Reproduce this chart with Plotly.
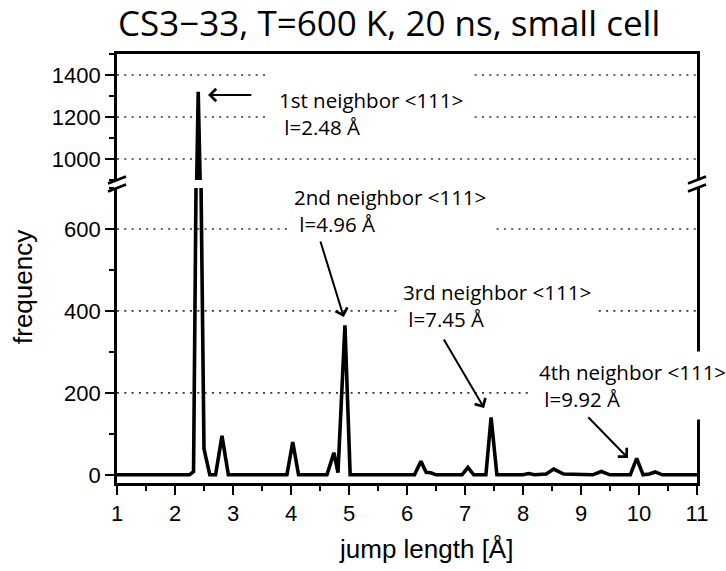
import plotly.graph_objects as go

# Jump-length histogram (CS3-33, 600 K, 20 ns, small cell)
jump_length = [1.00, 2.25, 2.32, 2.40, 2.50, 2.60, 2.70, 2.81, 2.92, 3.93, 4.03, 4.13,
               4.62, 4.74, 4.81, 4.93, 5.02, 5.60, 5.70, 5.80, 6.13, 6.24, 6.33, 6.41,
               6.50, 6.95, 7.05, 7.15, 7.36, 7.45, 7.55, 8.00, 8.10, 8.20, 8.40, 8.53,
               8.70, 9.20, 9.35, 9.50, 9.85, 9.96, 10.07, 10.18, 10.28, 10.40, 11.00]
frequency = [0, 0, 8, 1320, 63, 0, 0, 95, 0, 0, 80, 0,
             0, 54, 5, 365, 0, 0, 2, 0, 0, 33, 6, 5,
             0, 0, 18, 0, 0, 140, 0, 0, 3, 0, 2, 14,
             2, 0, 8, 0, 0, 40, 0, 2, 7, 0, 0]

lower_ticks = [0, 200, 400, 600]
upper_ticks = [1000, 1200, 1400]
lower_range = [-20, 700]
upper_range = [900, 1500]
x_ticks = list(range(1, 12))

neighbor_names = ["1st", "2nd", "3rd", "4th"]
neighbor_dist = [2.48, 4.96, 7.45, 9.92]

title_text = "CS3\u221233, T=600 K, 20 ns, small cell"
x_title = "jump length [Å]"
y_title = "frequency"

# ---- layout geometry (figure pixels) ----
W, H = 726, 571
L, R, T, B = 117, 697, 54, 483


def px(p):
    return (p - L) / (R - L)


def py(p):
    return (B - p) / (B - T)


gap_top, gap_bottom = 180, 188
lower_dom = [0, py(gap_bottom)]
upper_dom = [py(gap_top), 1]

tick_font = dict(family="Liberation Sans, Arial", size=22, color="black")
title_font = dict(family="Liberation Sans, Arial", size=26, color="black")
label_font = dict(family="Open Sans", size=20.5, color="black")

line_w = 2.8

fig = go.Figure()
for xa, ya in (("x", "y"), ("x2", "y2")):
    fig.add_trace(go.Scatter(
        x=jump_length, y=frequency, mode="lines", xaxis=xa, yaxis=ya,
        line=dict(color="black", width=3.6), showlegend=False, hoverinfo="skip"))

fig.update_layout(
    width=W, height=H, margin=dict(l=L, r=W - R, t=T, b=H - B),
    paper_bgcolor="white", plot_bgcolor="white",
    xaxis=dict(domain=[0, 1], anchor="y", range=[1, 11], tickvals=x_ticks,
               ticks="outside", ticklen=9, tickwidth=2, tickcolor="black",
               showline=True, linewidth=line_w, linecolor="black", showgrid=False,
               zeroline=False, tickfont=tick_font,
               minor=dict(ticks="outside", dtick=0.5, tick0=1, ticklen=5,
                          tickwidth=2, tickcolor="black", showgrid=False)),
    xaxis2=dict(domain=[0, 1], anchor="y2", range=[1, 11], side="top",
                showticklabels=False, ticks="", showline=True, linewidth=line_w,
                linecolor="black", showgrid=False, zeroline=False),
    yaxis=dict(domain=lower_dom, anchor="x", range=lower_range, tickvals=lower_ticks,
               ticks="outside", ticklen=9, tickwidth=2, tickcolor="black",
               showline=True, mirror=True, linewidth=line_w, linecolor="black",
               showgrid=False, zeroline=False, tickfont=tick_font,
               minor=dict(ticks="outside", dtick=100, tick0=0, ticklen=5,
                          tickwidth=2, tickcolor="black", showgrid=False)),
    yaxis2=dict(domain=upper_dom, anchor="x2", range=upper_range, tickvals=upper_ticks,
                ticks="outside", ticklen=9, tickwidth=2, tickcolor="black",
                showline=True, mirror=True, linewidth=line_w, linecolor="black",
                showgrid=False, zeroline=False, tickfont=tick_font,
                minor=dict(ticks="outside", dtick=100, tick0=0, ticklen=5,
                           tickwidth=2, tickcolor="black", showgrid=False)),
)

shapes = []
# dotted horizontal grid lines
for yref, levels in (("y", lower_ticks[1:]), ("y2", upper_ticks)):
    for v in levels:
        shapes.append(dict(type="line", xref="paper", yref=yref, x0=0, x1=1, y0=v, y1=v,
                           line=dict(color="#333", width=1.6, dash="2px,5.3px"),
                           layer="below"))
# axis-break marks on both vertical axes
for xa in (0, 1):
    for ya in (gap_top, gap_bottom):
        shapes.append(dict(type="line", xref="paper", yref="paper",
                           xsizemode="pixel", ysizemode="pixel",
                           xanchor=xa, yanchor=py(ya),
                           x0=-9, x1=9, y0=-3.5, y1=3.5,
                           line=dict(color="black", width=2.8), layer="above"))
# white backing behind the first label
shapes.append(dict(type="rect", xref="paper", yref="paper",
                   x0=px(270), x1=px(472), y0=py(140), y1=py(68),
                   fillcolor="white", line=dict(width=0), layer="above"))
fig.update_layout(shapes=shapes)

annotations = []
# neighbor labels: left edge and first-line centre (pixels)
label_pos = [(278, 100), (293, 197), (402, 292), (538, 372)]
pad = 6
for name, d, (lx, ly) in zip(neighbor_names, neighbor_dist, label_pos):
    annotations.append(dict(
        xref="paper", yref="paper", x=px(lx - pad), y=py(ly + 13.5),
        xanchor="left", yanchor="middle", align="left", showarrow=False,
        text=f"{name} neighbor &lt;111&gt;<br>\u00a0l={d:.2f} Å",
        font=label_font, bgcolor="white", borderpad=pad))

# arrows: (tip x, tip y, tail x, tail y, axis)
arrows = [(2.57, 1305, 3.34, 1305, "y2"),
          (4.91, 385, 4.50, 573, "y"),
          (7.33, 163, 6.62, 334, "y"),
          (9.81, 41, 9.10, 144, "y")]
for tx, ty, sx, sy, yr in arrows:
    annotations.append(dict(
        xref="x", yref=yr, x=tx, y=ty, axref="x", ayref=yr, ax=sx, ay=sy,
        text="", showarrow=True, arrowhead=4, arrowsize=1.2, arrowwidth=2,
        arrowcolor="black", standoff=0, startstandoff=0))

annotations.append(dict(xref="paper", yref="paper", x=px(389), y=py(22),
                        xanchor="center", yanchor="middle", showarrow=False,
                        text=title_text,
                        font=dict(family="Open Sans", size=35, color="black")))
annotations.append(dict(xref="paper", yref="paper", x=px(426), y=py(549),
                        xanchor="center", yanchor="middle", showarrow=False,
                        text=x_title, font=title_font))
annotations.append(dict(xref="paper", yref="paper", x=px(23), y=py(287),
                        xanchor="center", yanchor="middle", showarrow=False,
                        textangle=-90, text=y_title, font=title_font))
fig.update_layout(annotations=annotations)

fig.write_html("out.html")
